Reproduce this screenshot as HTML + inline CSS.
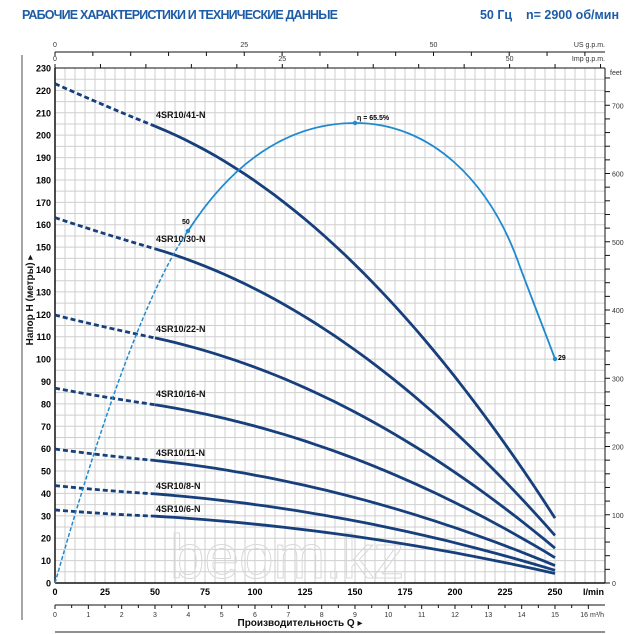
<!DOCTYPE html>
<html><head><meta charset="utf-8"><style>
body{margin:0;background:#fff;width:640px;height:634px;overflow:hidden}
svg{display:block;font-family:"Liberation Sans","DejaVu Sans",sans-serif}
</style></head><body>
<svg id="s" width="640" height="634" viewBox="0 0 640 634" xmlns="http://www.w3.org/2000/svg">
<text x="22" y="19" font-size="12.5" font-weight="bold" fill="#1d5ca6" textLength="316">РАБОЧИЕ ХАРАКТЕРИСТИКИ И ТЕХНИЧЕСКИЕ ДАННЫЕ</text>
<text x="619" y="19" font-size="12.5" font-weight="bold" fill="#1d5ca6" text-anchor="end">50 Гц&#160;&#160;&#160; n= 2900 об/мин</text>
<line x1="22" y1="55" x2="22" y2="620" stroke="#888" stroke-width="1.5"/>
<g id="g"></g>
<text x="300" y="626" font-size="10" font-weight="bold" text-anchor="middle" fill="#111">Производительность Q ▸</text>
<line x1="55" y1="632" x2="605" y2="632" stroke="#222" stroke-width="1"/>
<text transform="translate(33,300) rotate(-90)" font-size="10" font-weight="bold" text-anchor="middle" fill="#111">Напор H (метры) ▸</text>
</svg>
<script>
var g=document.getElementById('g'),h='';
function X(q){return 55+q*2}function Y(m){return 583-m*2.2391}
for(var k=0;k<=55;k++){var x=55+k*10;h+='<line x1="'+x+'" y1="68" x2="'+x+'" y2="583" stroke="#cfcfcf" stroke-width="1"/>';}
for(var k=0;k<=46;k++){var y=Y(k*5);h+='<line x1="55" y1="'+y+'" x2="605" y2="'+y+'" stroke="#cfcfcf" stroke-width="1"/>';}
h+='<line x1="55" y1="68" x2="55" y2="583" stroke="#111" stroke-width="1.5"/>';
h+='<line x1="55" y1="583" x2="605" y2="583" stroke="#111" stroke-width="1.5"/>';
h+='<line x1="605" y1="68" x2="605" y2="583" stroke="#111" stroke-width="1"/>';
h+='<line x1="55" y1="68" x2="605" y2="68" stroke="#111" stroke-width="1"/>';
for(var m=0;m<=230;m+=10)h+='<text x="51" y="'+(Y(m)+3.5)+'" font-size="9" font-weight="bold" text-anchor="end">'+m+'</text>';
for(var q=0;q<=250;q+=25)h+='<text x="'+X(q)+'" y="595" font-size="9" font-weight="bold" text-anchor="middle">'+q+'</text>';
h+='<text x="604" y="595" font-size="9" font-weight="bold" text-anchor="end">l/min</text>';
// m3/h
h+='<line x1="55" y1="605" x2="605" y2="605" stroke="#111"/>';
for(var i=0;i<=32;i++){var x=55+i*16.667;if(x>605)break;h+='<line x1="'+x+'" y1="605" x2="'+x+'" y2="'+(i%2?608:609)+'" stroke="#111"/>';if(i%2==0&&i<32)h+='<text x="'+x+'" y="617" font-size="7" text-anchor="middle" fill="#333">'+(i/2)+'</text>';}
h+='<text x="604" y="617" font-size="7" text-anchor="end" fill="#333">16 m³/h</text>';
// US gpm
h+='<line x1="55" y1="52" x2="605" y2="52" stroke="#111"/>';
for(var i=0;i<=14;i++){var x=55+i*5*3.785*2;if(x>605)break;h+='<line x1="'+x+'" y1="52" x2="'+x+'" y2="56" stroke="#111"/>';if(i%5==0)h+='<text x="'+x+'" y="47" font-size="7" text-anchor="middle" fill="#333">'+(i*5)+'</text>';}
h+='<text x="605" y="47" font-size="7" text-anchor="end" fill="#333">US g.p.m.</text>';
for(var i=0;i<=12;i++){var x=55+i*5*4.546*2;if(x>605)break;h+='<line x1="'+x+'" y1="68" x2="'+x+'" y2="64" stroke="#111"/>';if(i%5==0)h+='<text x="'+x+'" y="61" font-size="7" text-anchor="middle" fill="#333">'+(i*5)+'</text>';}
h+='<text x="605" y="61" font-size="7" text-anchor="end" fill="#333">Imp g.p.m.</text>';
// feet
h+='<text x="610" y="75" font-size="7" fill="#333">feet</text>';
for(var f=0;f<=740;f+=20){var y=583-f*0.3048*2.2391;if(y<68)break;h+='<line x1="605" y1="'+y+'" x2="610" y2="'+y+'" stroke="#111"/>';if(f%100==0)h+='<text x="612" y="'+(y+3)+'" font-size="7" fill="#333">'+f+'</text>';}
// watermark
h+='<text x="170" y="578" font-size="62" fill="none" stroke="#d8d8d8" stroke-width="1">beom.kz</text>';
// pump curves
var base=[223,204,140,29];
var st=[[41,118],[30,242],[22,332],[16,397],[11,456],[8,489],[6,512]];
st.forEach(function(s){var r=s[0]/41,a=base.map(function(v){return v*r});
var q1=50,q2=152.5,q3=250,y1=a[1],y2=a[2],y3=a[3];
var c=((y3-y1)/(q3-q1)-(y2-y1)/(q2-q1))/(q3-q2),b=(y2-y1)/(q2-q1)-c*(q1+q2),a0=y1-b*q1-c*q1*q1;
var p='';for(var q=50;q<=250;q+=5){var v=a0+b*q+c*q*q;p+=(q==50?'M':'L')+X(q).toFixed(1)+','+Y(v).toFixed(1);}
h+='<path d="'+p+'" fill="none" stroke="#173f7c" stroke-width="2.8"/>';
h+='<path d="M'+X(0)+','+Y(a[0])+' Q'+X(25)+','+Y((a[0]+a[1])/2-0.5)+' '+X(50)+','+Y(a[1])+'" fill="none" stroke="#173f7c" stroke-width="2.8" stroke-dasharray="5,3"/>';
h+='<text x="156" y="'+s[1]+'" font-size="9" font-weight="bold" fill="#111">4SR10/'+s[0]+'-N</text>';});
// efficiency
h+='<path d="M55,583 C90,460 140,300 188,231" fill="none" stroke="#1f8ad0" stroke-width="1.5" stroke-dasharray="4,2"/>';
h+='<path d="M188,231 C240,150 300,123 355,123 C430,123 490,180 520,267 C540,320 550,345 555,359" fill="none" stroke="#1f8ad0" stroke-width="1.8"/>';
h+='<circle cx="188" cy="231" r="2.2" fill="#1f8ad0"/><circle cx="355" cy="123" r="2.2" fill="#1f8ad0"/><circle cx="555" cy="359" r="2.2" fill="#1f8ad0"/>';
h+='<text x="182" y="224" font-size="7" font-weight="bold">50</text>';
h+='<text x="357" y="120" font-size="7" font-weight="bold">η = 65.5%</text>';
h+='<text x="558" y="360" font-size="7" font-weight="bold">29</text>';
g.innerHTML=h;
</script>
</body></html>
